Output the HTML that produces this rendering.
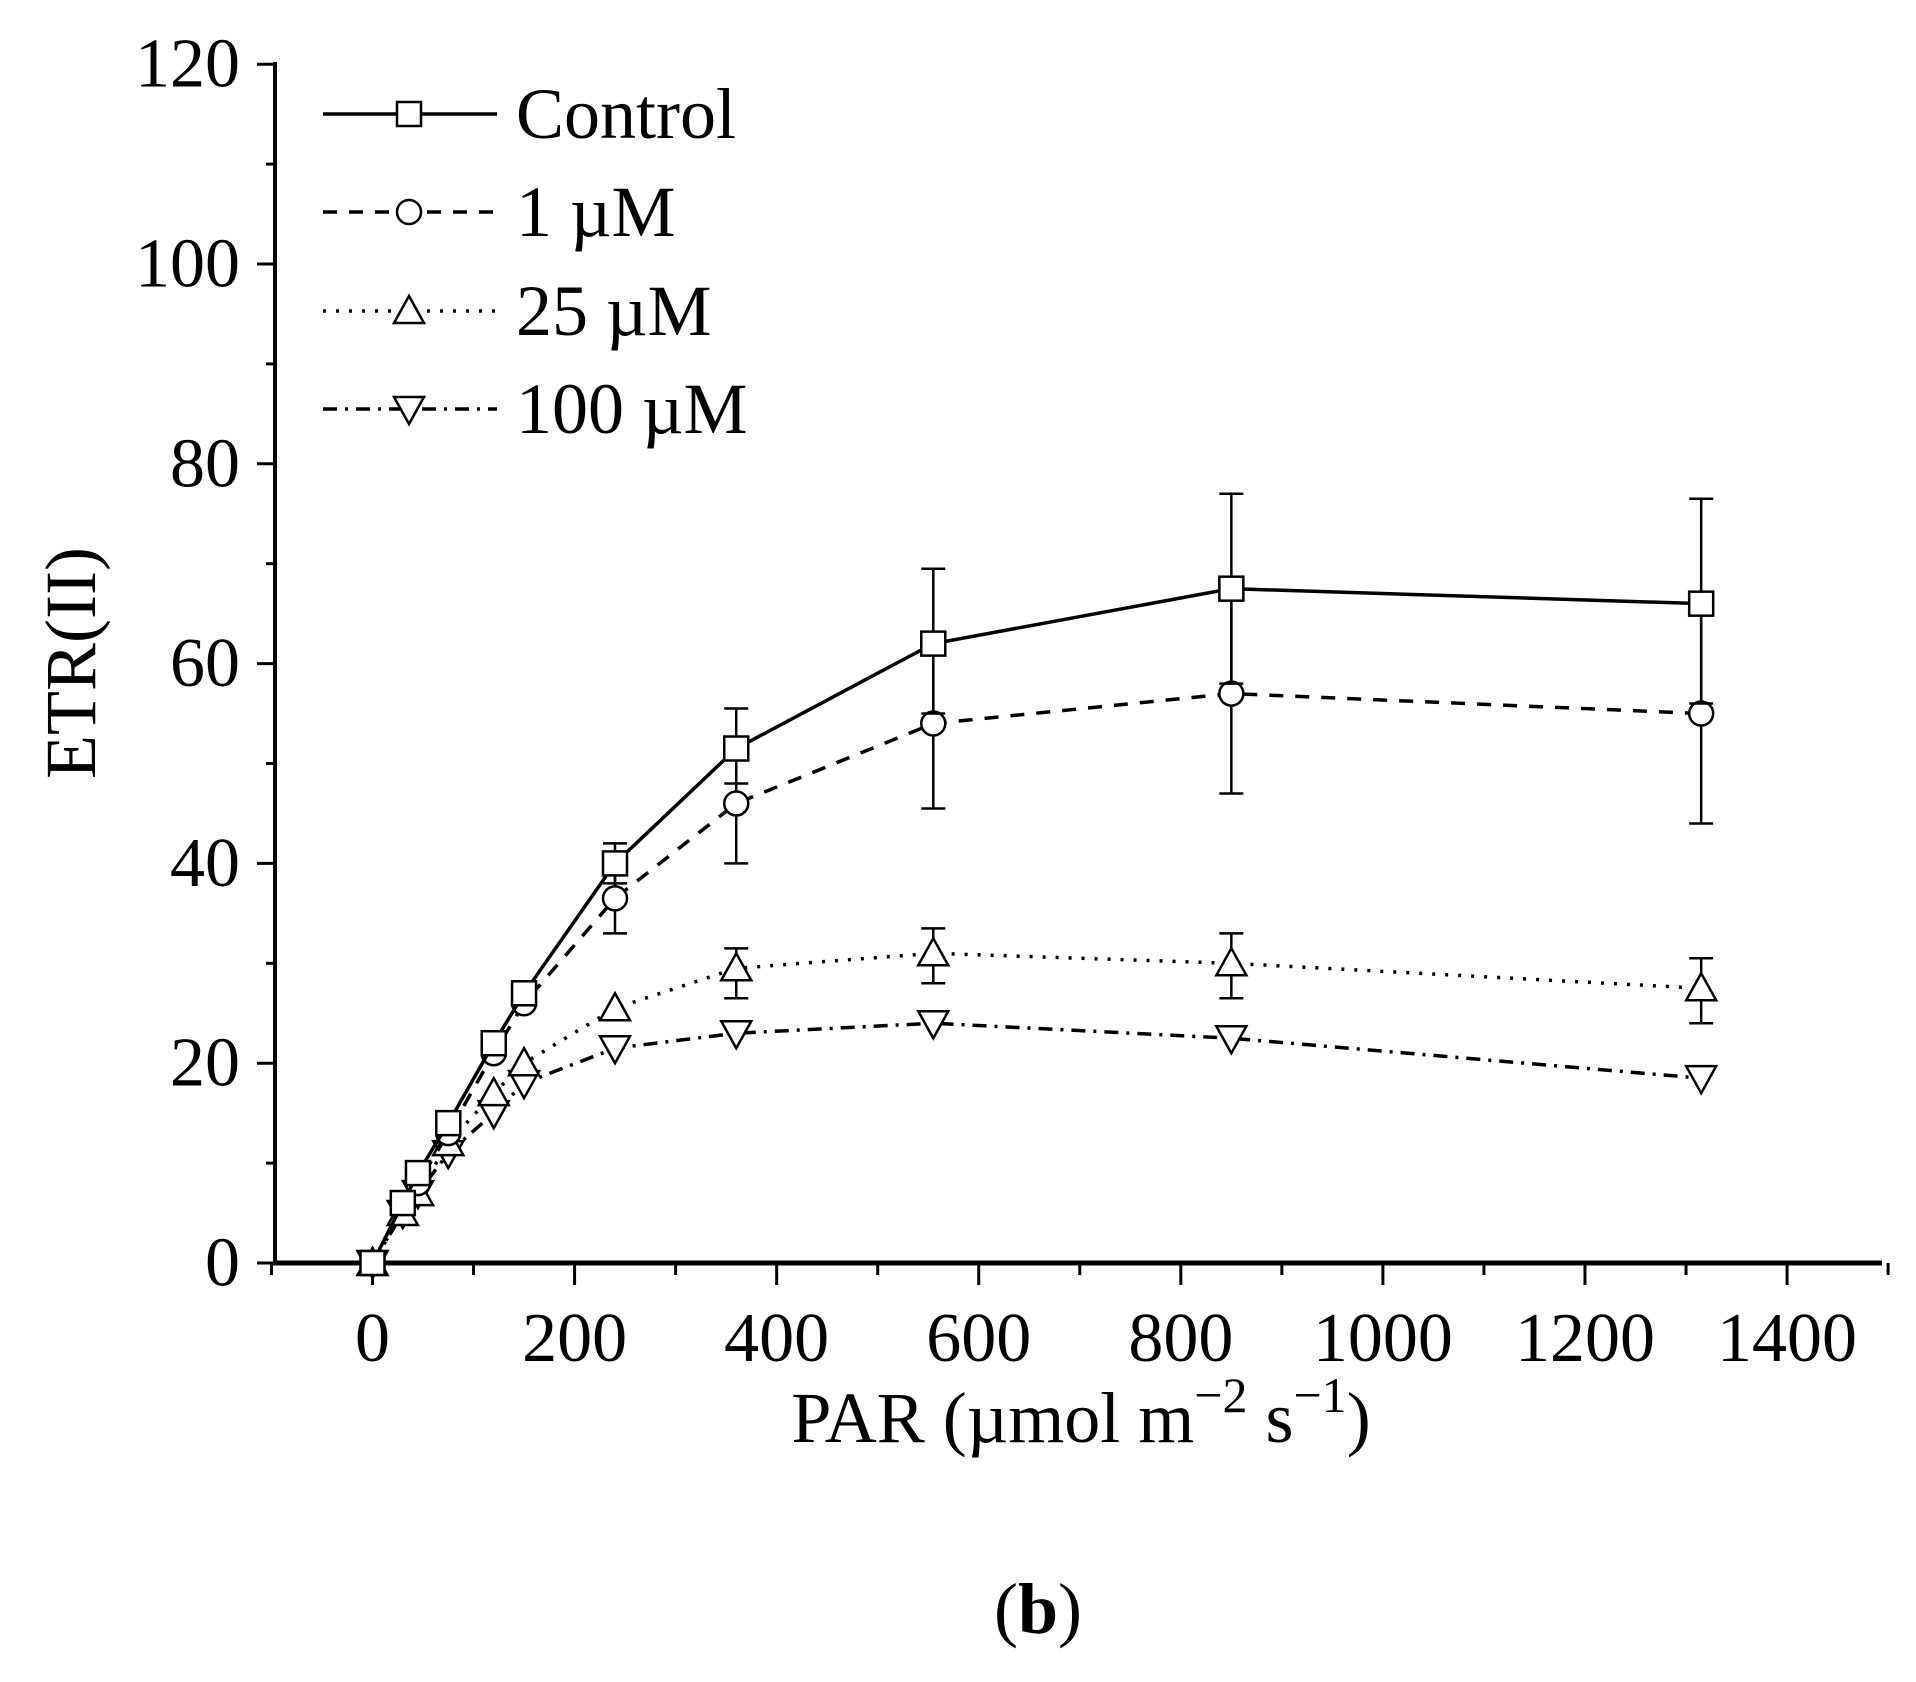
<!DOCTYPE html>
<html><head><meta charset="utf-8">
<style>
html,body{margin:0;padding:0;background:#fff;}
svg{display:block;}
text{font-family:"Liberation Serif",serif;fill:#000;}
</style></head>
<body>
<svg id="s" width="1916" height="1682" viewBox="0 0 1916 1682" xmlns="http://www.w3.org/2000/svg">
<rect width="1916" height="1682" fill="#fff"/>
<g id="g"></g>
<text x="71" y="663" font-size="72" text-anchor="middle" transform="rotate(-90 71 663)" dominant-baseline="central">ETR(II)</text>
<text x="1081" y="1442" font-size="72" text-anchor="middle">PAR (µmol m<tspan dy="-30" font-size="50">−2</tspan><tspan dy="30"> s</tspan><tspan dy="-30" font-size="50">−1</tspan><tspan dy="30">)</tspan></text>
<text x="1038" y="1633" font-size="72" text-anchor="middle">(<tspan font-weight="bold">b</tspan>)</text>
</svg>
<script>
const NS="http://www.w3.org/2000/svg";
const g=document.getElementById('g');
function el(t,a,txt){const e=document.createElementNS(NS,t);for(const k in a)e.setAttribute(k,a[k]);if(txt!==undefined)e.textContent=txt;g.appendChild(e);return e;}
const px=x=>372.5+x*1.0104, py=y=>1263-y*9.99;
// axes
el('line',{x1:275,y1:62,x2:275,y2:1265,stroke:'#000','stroke-width':4});
el('line',{x1:273,y1:1263,x2:1882,y2:1263,stroke:'#000','stroke-width':5});
for(let v=0;v<=120;v+=10){const y=py(v);el('line',{x1:v%20==0?257:266,y1:y,x2:275,y2:y,stroke:'#000','stroke-width':3});
 if(v%20==0)el('text',{x:240,y:y,'font-size':70,'text-anchor':'end','dominant-baseline':'central'},String(v));}
for(let v=-100;v<=1500;v+=100){const x=px(v);const maj=v%200==0;el('line',{x1:x,y1:1263,x2:x,y2:maj?1285:1275,stroke:'#000','stroke-width':3});
 if(maj&&v>=0)el('text',{x:x,y:1361,'font-size':70,'text-anchor':'middle'},String(v));}
const X=[0,30,45,75,120,150,240,360,555,850,1315];
const S=[
 {d:[0,6,9,14,22,27,40,51.5,62,67.5,66],dash:'',m:'sq',eb:{7:[48,55.5],8:[55,69.5],9:[58,77],10:[56,76.5],6:[38,42]}},
 {d:[0,6,8,13,21,26,36.5,46,54,57,55],dash:'14 12',m:'ci',eb:{6:[33,40],7:[40,52],8:[45.5,62],9:[47,67],10:[44,66]}},
 {d:[0,5,7,12,17,20,25.5,29.5,31,30,27.5],dash:'3 10',m:'up',eb:{7:[26.5,31.5],8:[28,33.5],9:[26.5,33],10:[24,30.5]}},
 {d:[0,5,7,11,15,18,21.5,23,24,22.5,18.5],dash:'14 8 3 8',m:'dn',eb:{}}
];
function marker(m,x,y){const r=12;
 if(m=='sq')el('rect',{x:x-r,y:y-r,width:2*r,height:2*r,fill:'#fff',stroke:'#000','stroke-width':2.5});
 if(m=='ci')el('circle',{cx:x,cy:y,r:r,fill:'#fff',stroke:'#000','stroke-width':2.5});
 if(m=='up')el('polygon',{points:`${x},${y-r-3} ${x-r-3},${y+r} ${x+r+3},${y+r}`,fill:'#fff',stroke:'#000','stroke-width':2.5});
 if(m=='dn')el('polygon',{points:`${x},${y+r+3} ${x-r-3},${y-r} ${x+r+3},${y-r}`,fill:'#fff',stroke:'#000','stroke-width':2.5});}
S.slice().reverse().forEach(s=>{
 const pts=X.map((x,i)=>px(x)+','+py(s.d[i])).join(' ');
 el('polyline',{points:pts,fill:'none',stroke:'#000','stroke-width':3.5,'stroke-dasharray':s.dash});
 for(const i in s.eb){const x=px(X[i]);const[a,b]=s.eb[i];
  el('line',{x1:x,y1:py(a),x2:x,y2:py(b),stroke:'#000','stroke-width':2.5});
  el('line',{x1:x-12,y1:py(a),x2:x+12,y2:py(a),stroke:'#000','stroke-width':2.5});
  el('line',{x1:x-12,y1:py(b),x2:x+12,y2:py(b),stroke:'#000','stroke-width':2.5});}
 X.forEach((x,i)=>marker(s.m,px(x),py(s.d[i])));
});
// legend
const L=['Control','1 µM','25 µM','100 µM'],LY=[114,212,311,409];
S.forEach((s,i)=>{const y=LY[i];
 el('line',{x1:323,y1:y,x2:497,y2:y,stroke:'#000','stroke-width':3.5,'stroke-dasharray':s.dash});
 marker(s.m,409,y);
 el('text',{x:516,y:y,'font-size':72,'dominant-baseline':'central'},L[i]);});
</script>
</body></html>
